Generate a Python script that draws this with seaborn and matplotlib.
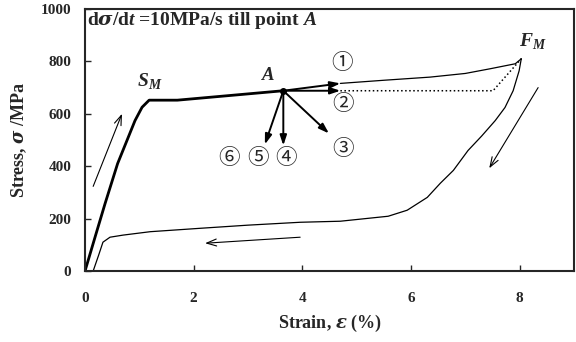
import matplotlib
matplotlib.use("Agg")
import matplotlib.pyplot as plt
import seaborn as sns
import pandas as pd

# ---- data ----
load_x = [0, 0.2, 0.37, 0.6, 0.92, 1.05, 1.18, 1.7, 3.65]
load_y = [0, 140, 258, 410, 574, 625, 652, 652, 688]

path1_x = [4.7, 5.5, 6.35, 7.0, 7.46, 7.92, 8.03]
path1_y = [716, 728, 740, 754, 772, 791, 810]

path2_x = [4.7, 7.51, 8.03]
path2_y = [688, 688, 810]

unload_x = [8.03, 7.99, 7.88, 7.73, 7.55, 7.3, 7.05, 6.78, 6.54, 6.30, 5.93, 5.58,
            4.70, 3.96, 3.0, 2.12, 1.2, 0.70, 0.46, 0.33, 0.25, 0.15]
unload_y = [810, 764, 688, 624, 574, 515, 460, 384, 335, 281, 232, 209,
            190, 186, 175, 163, 150, 137, 129, 110, 60, 0]

point_A = (3.65, 688)
arrow_ends = {"1": (4.7, 716), "2": (4.7, 688), "3": (4.49, 525), "4": (3.65, 479), "5": (3.31, 483)}
labels_circ = ["①", "②", "③", "④", "⑤", "⑥"]
label_pos = [(4.73, 795), (4.75, 639), (4.75, 467), (3.70, 433), (3.18, 433), (2.65, 433)]

x_ticks = [0, 2, 4, 6, 8]
y_ticks = [0, 200, 400, 600, 800, 1000]

# ---- style ----
sns.set_style("ticks")
plt.rcParams["font.family"] = ["Liberation Serif", "Noto Sans CJK JP", "DejaVu Sans"]
plt.rcParams["font.weight"] = "bold"
plt.rcParams["mathtext.fontset"] = "custom"
plt.rcParams["mathtext.rm"] = "Liberation Serif:bold"
plt.rcParams["mathtext.it"] = "DejaVu Serif:italic:bold"
plt.rcParams["mathtext.bf"] = "Liberation Serif:bold"
plt.rcParams["mathtext.sf"] = "Liberation Serif:italic:bold"

fig = plt.figure(figsize=(5.76, 3.42), dpi=100)
ax = fig.add_axes([0.1476, 0.2076, 0.8489, 0.7661])

def line(xs, ys, lw, ls="-"):
    df = pd.DataFrame({"x": xs, "y": ys})
    sns.lineplot(data=df, x="x", y="y", sort=False, estimator=None, ax=ax,
                 color="black", linewidth=lw, linestyle=ls)

line(load_x, load_y, 2.0)
line(path1_x, path1_y, 0.9)
line(path2_x, path2_y, 1.1, ":")
line(unload_x, unload_y, 0.9)

ax.plot(*point_A, "o", color="black", markersize=4)

for key, end in arrow_ends.items():
    ax.annotate("", xy=end, xytext=point_A,
                arrowprops=dict(arrowstyle="-|>,head_length=0.6,head_width=0.2",
                                color="black", lw=1.4, shrinkA=0, shrinkB=0))

for lab, (lx, ly) in zip(labels_circ, label_pos):
    ax.text(lx, ly, lab, ha="center", va="center", fontsize=15.5, fontweight="normal",
            family=["Noto Sans CJK JP", "DejaVu Sans"])

# direction arrows (thin, open heads)
thin = dict(arrowstyle="->,head_length=0.7,head_width=0.25", color="black", lw=0.8,
            shrinkA=0, shrinkB=0)
ax.annotate("", xy=(0.68, 600), xytext=(0.15, 323), arrowprops=thin)
ax.annotate("", xy=(7.44, 392), xytext=(8.34, 700), arrowprops=thin)
ax.annotate("", xy=(2.21, 106), xytext=(3.96, 129), arrowprops=thin)

ax.text(0.03, 957, r"d$\sigma$/d$\mathsf{t}$ =10MPa/s till point $\mathsf{A}$",
        fontsize=14, fontweight="bold", ha="left", va="center")
ax.text(3.37, 745, r"$\mathsf{A}$", fontsize=13.5, ha="center", va="center")
ax.text(1.2, 725, r"$\mathsf{S}_{\mathsf{M}}$", fontsize=14, ha="center", va="center")
ax.text(8.25, 878, r"$\mathsf{F}_{\mathsf{M}}$", fontsize=14, ha="center", va="center")

ax.set_xlim(0, 9)
ax.set_ylim(0, 1000)
ax.set_xticks(x_ticks)
ax.set_yticks(y_ticks)
ax.set_xticklabels([str(t) for t in x_ticks], fontsize=11, fontweight="bold")
ax.set_yticklabels([str(t) for t in y_ticks], fontsize=11, fontweight="bold")
ax.tick_params(direction="in", length=4, width=1.0)
ax.tick_params(axis="x", pad=15)
ax.tick_params(axis="y", pad=10)
for s in ax.spines.values():
    s.set_linewidth(1.5)
    s.set_visible(True)
ax.set_xlabel(r"Strain, $\varepsilon$ (%)", fontsize=13, fontweight="bold", labelpad=6)
ax.set_ylabel(r"Stress, $\sigma$ /MPa", fontsize=13, fontweight="bold", labelpad=8)

fig.savefig("out.png", dpi=100)
